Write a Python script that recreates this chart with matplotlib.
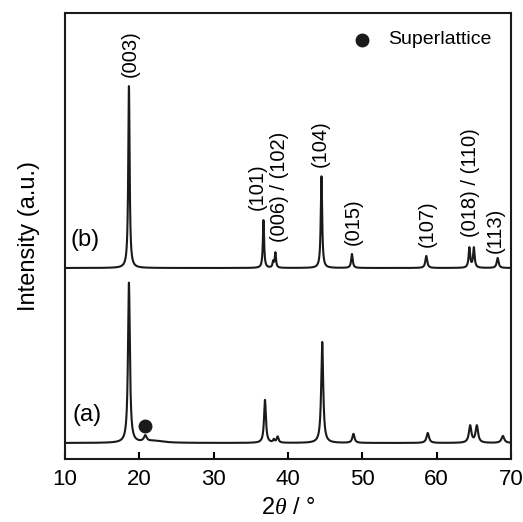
"""XRD patterns of samples (a) and (b) with hkl labels."""
import numpy as np
import matplotlib
matplotlib.use("Agg")
from matplotlib import pyplot as plt

plt.rcParams['font.family'] = ['Liberation Sans', 'DejaVu Sans']
plt.rcParams['mathtext.fontset'] = 'custom'
plt.rcParams['mathtext.it'] = 'Liberation Serif:italic'
plt.rcParams['mathtext.rm'] = 'Liberation Sans'

# peak lists: position (deg), height (a.u.), fwhm (deg)
pos_a = [18.6, 20.8, 22.0, 36.9, 38.1, 38.6, 44.6, 48.8, 58.8, 64.5, 65.4, 68.9]
height_a = [160, 6, 2, 43, 3, 6, 101, 9, 10, 17, 17, 7]
fwhm_a = [0.30, 0.45, 3.0, 0.30, 0.25, 0.30, 0.32, 0.35, 0.40, 0.40, 0.40, 0.45]

pos_b = [18.6, 36.7, 38.0, 38.3, 44.5, 48.6, 58.6, 64.4, 65.0, 68.2]
height_b = [182, 48, 6, 15, 92, 14, 12, 20, 20, 10]
fwhm_b = [0.22, 0.20, 0.20, 0.20, 0.22, 0.25, 0.30, 0.25, 0.25, 0.30]

offset_a = 16
offset_b = 191

hkl_labels = ['(003)', '(101)', '(006) / (102)', '(104)', '(015)',
              '(107)', '(018) / (110)', '(113)']
hkl_x = [18.8, 35.8, 38.9, 44.3, 48.8, 58.7, 64.5, 67.9]
hkl_y = [382, 249, 217, 292, 214, 212, 222, 206]


def _pattern(x, pos, height, fwhm, offset):
    """Sum of Lorentzian peaks on a flat baseline."""
    y = np.full_like(x, float(offset))
    for p, h, w in zip(pos, height, fwhm):
        g = w / 2
        y += h * g**2 / ((x - p)**2 + g**2)
    return y


two_theta = np.linspace(10, 70, 4000)
curve_a = _pattern(two_theta, pos_a, height_a, fwhm_a, offset_a)
curve_b = _pattern(two_theta, pos_b, height_b, fwhm_b, offset_b)

fig = plt.figure(figsize=(5.23, 5.22), dpi=100)
ax = fig.add_axes([0.1243, 0.1207, 0.8528, 0.8544])
ax.plot(two_theta, curve_a, color='#1a1a1a', lw=1.5)
ax.plot(two_theta, curve_b, color='#1a1a1a', lw=1.5)

for label, x, y in zip(hkl_labels, hkl_x, hkl_y):
    ax.text(x, y, label, rotation=90, ha='center', va='bottom', fontsize=14.5)

ax.text(10.75, 219, '(b)', fontsize=17, va='center')
ax.text(11.0, 44, '(a)', fontsize=17, va='center')

ax.plot(20.8, 33, 'o', color='#1a1a1a', ms=9)
ax.plot(50.0, 419, 'o', color='#1a1a1a', ms=9)
ax.text(53.5, 419, 'Superlattice', fontsize=14, va='center')

ax.set_xlim(10, 70)
ax.set_ylim(0, 446)
ax.set_xticks(np.arange(10, 71, 10))
ax.set_yticks([])
ax.tick_params(axis='x', direction='in', length=5, width=1.5, labelsize=16, pad=7)
for spine in ax.spines.values():
    spine.set_linewidth(1.5)
    spine.set_color('#1a1a1a')
ax.set_xlabel(r'2$\it{\theta}$ / °', fontsize=17, labelpad=5)
ax.set_ylabel('Intensity (a.u.)', fontsize=17, labelpad=18)

fig.savefig('out.png', dpi=100)
